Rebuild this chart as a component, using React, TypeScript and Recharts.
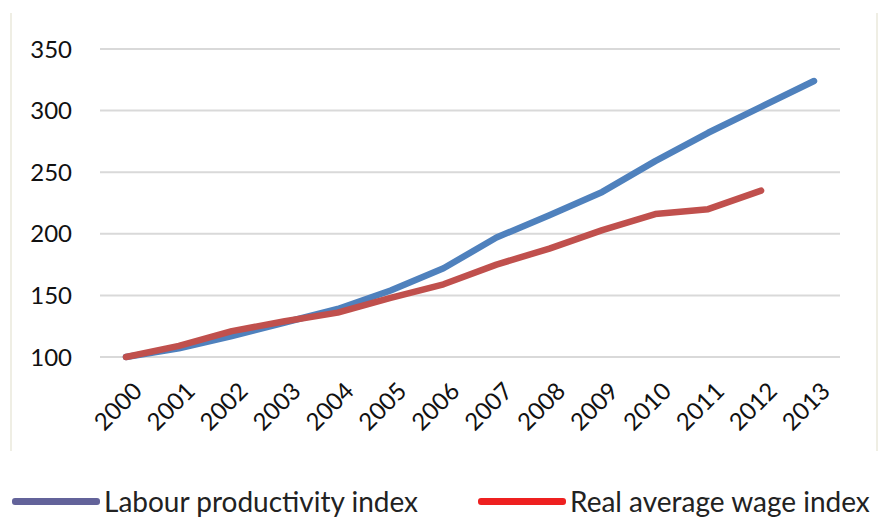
import React from "react";
import { LineChart, Line, XAxis, YAxis, CartesianGrid } from "recharts";

const years = [
  "2000", "2001", "2002", "2003", "2004", "2005", "2006",
  "2007", "2008", "2009", "2010", "2011", "2012", "2013",
];

const productivity = [100, 107, 117, 128, 139, 154, 172, 197, 215, 234, 259, 282, 303, 324];

const wages: (number | null)[] = [100, 109, 121, 129, 136, 148, 159, 175, 188, 203, 216, 220, 235, null];

const yTicks = [100, 150, 200, 250, 300, 350];

const SERIES = [
  { key: "productivity", name: "Labour productivity index", color: "#4f81bd", legendColor: "#63639a" },
  { key: "wages", name: "Real average wage index", color: "#c0504d", legendColor: "#ee2020" },
];

const data = years.map((year, i) => ({
  year,
  productivity: productivity[i],
  wages: wages[i],
}));

const FONT = "Lato, 'Noto Sans', sans-serif";

function XTick(props: any) {
  const { x, y, payload } = props;
  const tx = x + 4;
  const ty = y + 14;
  return (
    <text
      x={tx}
      y={ty}
      textAnchor="end"
      fontFamily={FONT}
      fontSize={24}
      fill="#111"
      transform={`rotate(-45, ${tx}, ${ty})`}
      dominantBaseline="hanging"
    >
      {payload.value}
    </text>
  );
}

export default function App() {
  return (
    <div
      style={{
        position: "absolute",
        left: 0,
        top: 0,
        width: 879,
        height: 522,
        background: "#fff",
        fontFamily: FONT,
      }}
    >
      {/* frame edges */}
      <div style={{ position: "absolute", left: 10, top: 13, width: 2, height: 438, background: "#efeee4" }} />
      <div style={{ position: "absolute", left: 876, top: 13, width: 2, height: 438, background: "#efeee4" }} />

      <LineChart
        width={879}
        height={440}
        data={data}
        margin={{ top: 49, right: 39, left: 0, bottom: 0 }}
      >
        <CartesianGrid vertical={false} stroke="#d9d9d9" strokeWidth={2} />
        <XAxis
          dataKey="year"
          axisLine={false}
          tickLine={false}
          interval={0}
          height={83}
          padding={{ left: 26, right: 26 }}
          tick={<XTick />}
        />
        <YAxis
          domain={[100, 350]}
          ticks={yTicks}
          axisLine={false}
          tickLine={false}
          width={100}
          tickMargin={22}
          tick={{ fill: "#111", fontSize: 24, fontFamily: FONT }}
        />
        {SERIES.map((s) => (
          <Line
            key={s.key}
            type="linear"
            dataKey={s.key}
            name={s.name}
            stroke={s.color}
            strokeWidth={6.5}
            strokeLinecap="round"
            strokeLinejoin="round"
            dot={false}
            isAnimationActive={false}
          />
        ))}
      </LineChart>

      {/* Legend */}
      <div style={{ position: "absolute", left: 12, top: 484, display: "flex", alignItems: "center" }}>
        <div style={{ width: 88, height: 7, borderRadius: 3, background: SERIES[0].legendColor }} />
        <span style={{ marginLeft: 4, fontSize: 28, color: "#222" }}>{SERIES[0].name}</span>
      </div>
      <div style={{ position: "absolute", left: 478, top: 484, display: "flex", alignItems: "center" }}>
        <div style={{ width: 88, height: 7, borderRadius: 3, background: SERIES[1].legendColor }} />
        <span style={{ marginLeft: 4, fontSize: 28, color: "#222" }}>{SERIES[1].name}</span>
      </div>
    </div>
  );
}
